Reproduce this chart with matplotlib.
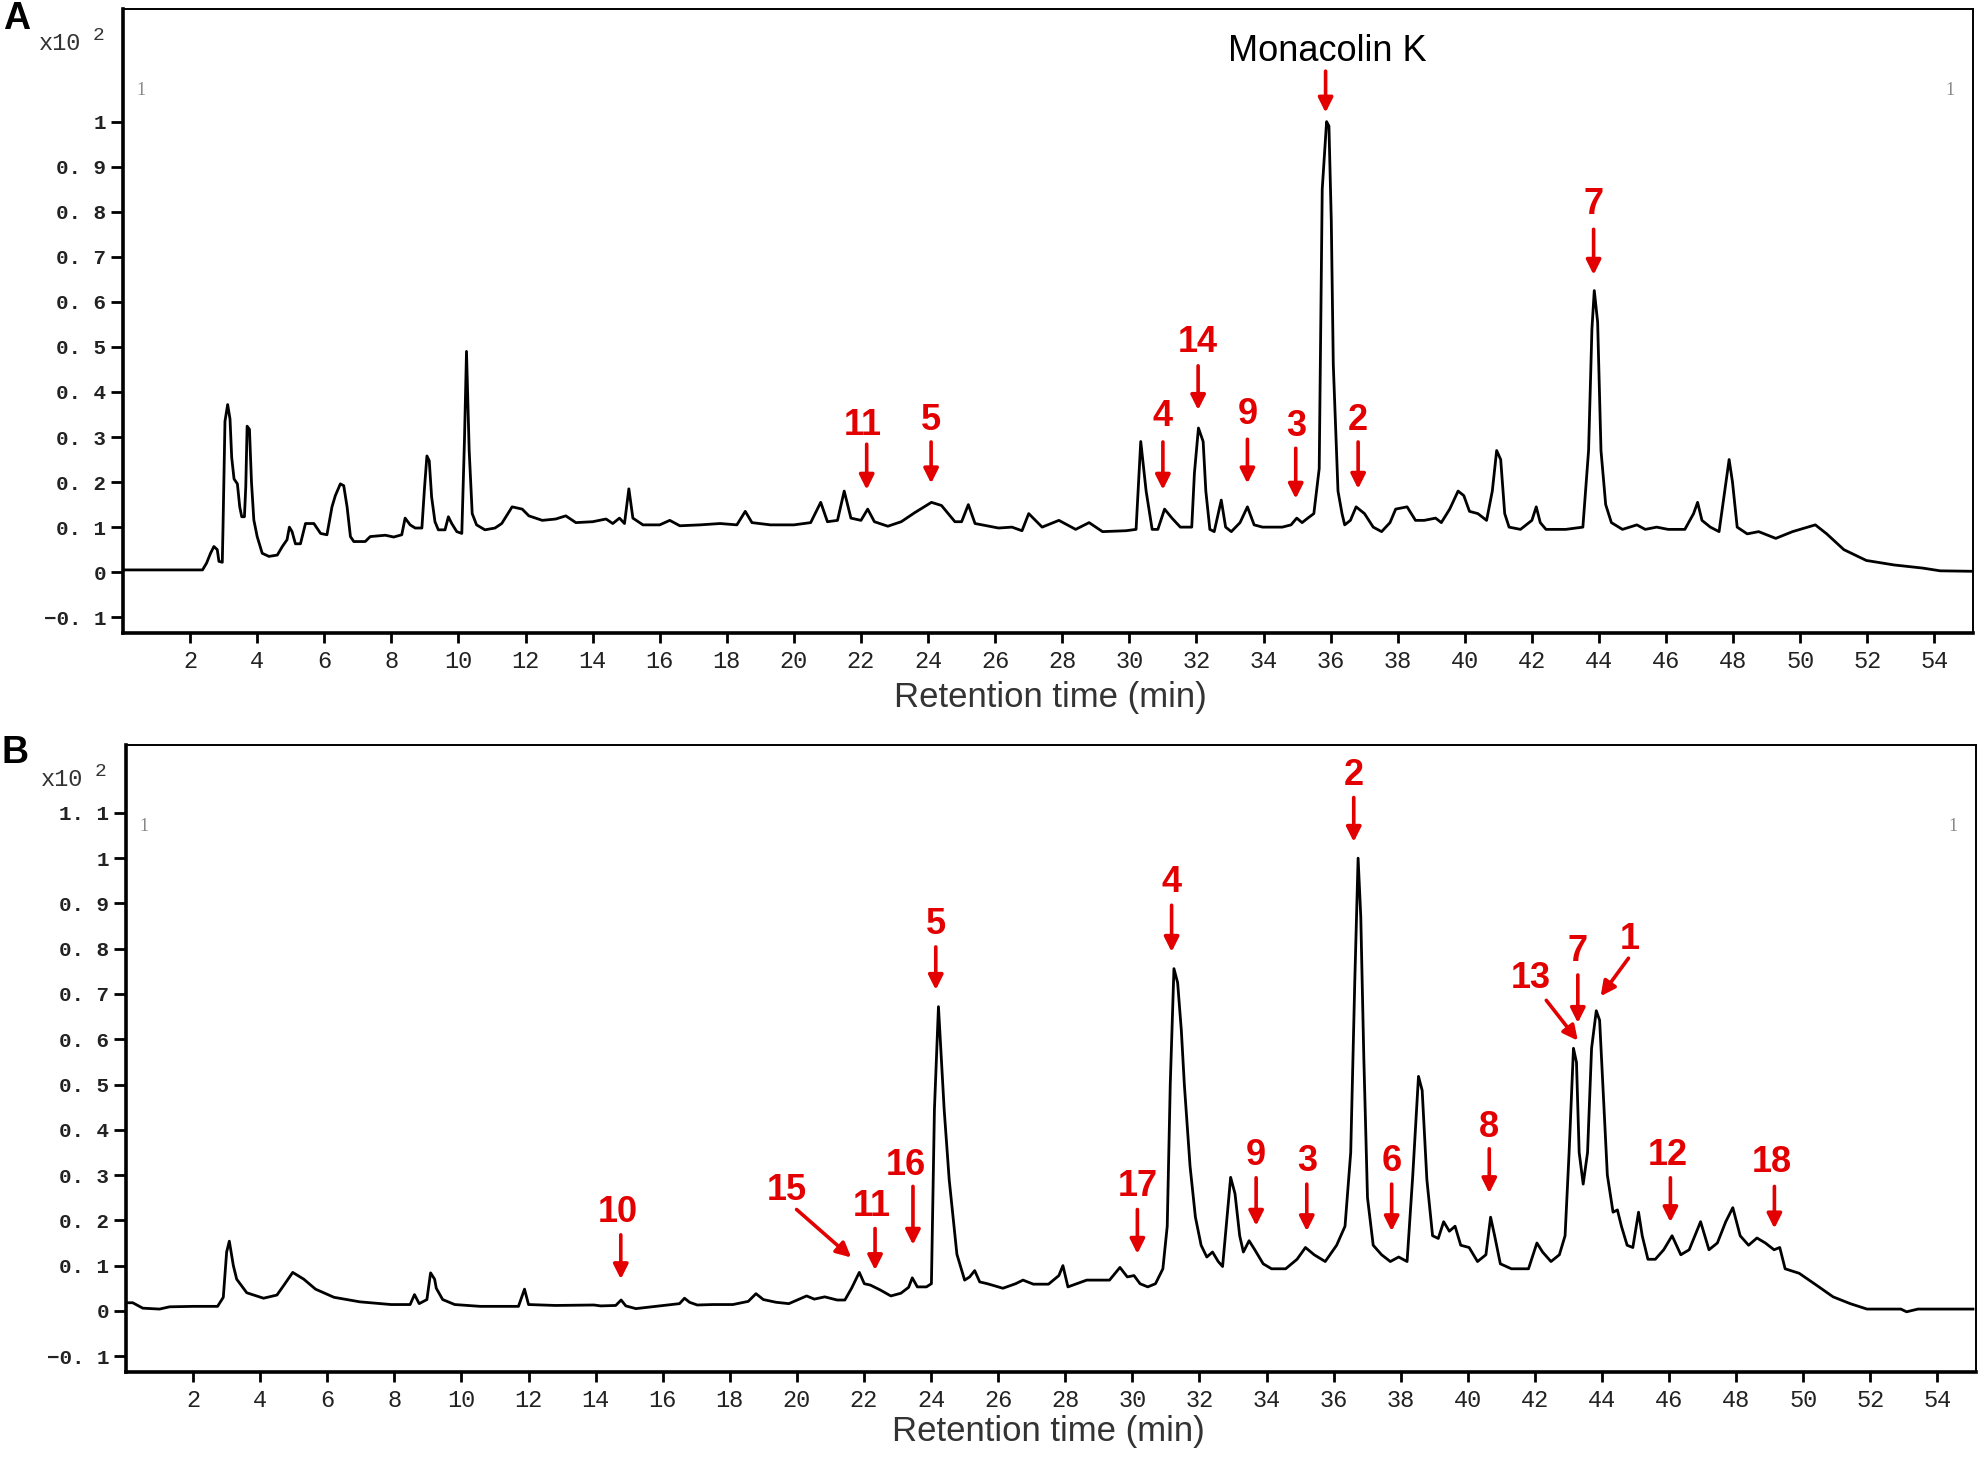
import matplotlib
matplotlib.use('Agg')
import matplotlib.pyplot as plt

# Panel A: retention time (min) and signal (x10^2)
a_time = [0.0, 2.37, 2.49, 2.61, 2.71, 2.81, 2.86, 2.96, 2.98, 3.04, 3.12, 3.19, 3.24, 3.31, 3.41,
          3.48, 3.54, 3.62, 3.66, 3.70, 3.77, 3.83, 3.90, 4.00, 4.15, 4.35, 4.60, 4.75, 4.89, 4.96,
          5.04, 5.14, 5.29, 5.44, 5.69, 5.89, 6.08, 6.23, 6.33, 6.48, 6.58, 6.68, 6.78, 6.88, 7.22,
          7.37, 7.82, 8.07, 8.31, 8.41, 8.56, 8.71, 8.91, 8.99, 9.06, 9.13, 9.20, 9.30, 9.40, 9.60,
          9.70, 9.80, 9.95, 10.10, 10.18, 10.24, 10.32, 10.41, 10.54, 10.79, 11.09, 11.29, 11.6, 11.9,
          12.1, 12.5, 12.9, 13.2, 13.5, 14.0, 14.4, 14.6, 14.8, 14.95, 15.08, 15.2, 15.5, 16.0, 16.3,
          16.6, 17.2, 17.8, 18.3, 18.55, 18.75, 19.3, 20.0, 20.5, 20.8, 21.0, 21.3, 21.5, 21.7, 22.0,
          22.2, 22.4, 22.8, 23.2, 23.6, 24.1, 24.4, 24.8, 25.0, 25.2, 25.4, 26.1, 26.5, 26.8, 27.0,
          27.4, 27.9, 28.4, 28.8, 29.2, 29.9, 30.2, 30.34, 30.5, 30.68, 30.85, 31.05, 31.27, 31.52,
          31.86, 31.94, 32.06, 32.2, 32.28, 32.4, 32.53, 32.74, 32.87, 33.04, 33.3, 33.52, 33.72,
          33.97, 34.22, 34.56, 34.82, 34.99, 35.15, 35.32, 35.5, 35.66, 35.75, 35.88, 35.95, 36.02,
          36.08, 36.22, 36.34, 36.42, 36.59, 36.76, 37.01, 37.27, 37.52, 37.77, 37.94, 38.28, 38.53,
          38.79, 39.13, 39.3, 39.55, 39.8, 39.97, 40.14, 40.39, 40.65, 40.82, 40.95, 41.07, 41.19,
          41.32, 41.66, 42.0, 42.13, 42.25, 42.42, 43.01, 43.52, 43.69, 43.79, 43.86, 43.96, 44.06,
          44.2, 44.37, 44.7, 45.13, 45.38, 45.72, 46.06, 46.56, 46.82, 46.94, 47.07, 47.32, 47.58,
          47.75, 47.88, 47.98, 48.12, 48.42, 48.76, 49.27, 49.77, 50.45, 50.79, 51.3, 51.97, 52.8,
          53.66, 54.17, 55.1]
a_signal = [0.005, 0.005, 0.02, 0.042, 0.057, 0.05, 0.024, 0.022, 0.094, 0.335, 0.372, 0.34, 0.255,
            0.207, 0.196, 0.145, 0.123, 0.123, 0.19, 0.324, 0.317, 0.20, 0.116, 0.079, 0.042, 0.035,
            0.038, 0.057, 0.072, 0.100, 0.090, 0.063, 0.063, 0.108, 0.108, 0.086, 0.083, 0.145, 0.170,
            0.196, 0.192, 0.145, 0.079, 0.068, 0.068, 0.079, 0.082, 0.078, 0.083, 0.120, 0.105, 0.098,
            0.098, 0.189, 0.258, 0.247, 0.167, 0.112, 0.094, 0.094, 0.123, 0.108, 0.090, 0.086, 0.295,
            0.490, 0.270, 0.130, 0.105, 0.094, 0.098, 0.108, 0.145, 0.14, 0.125, 0.115, 0.118, 0.125,
            0.11, 0.112, 0.118, 0.108, 0.12, 0.108, 0.185, 0.12, 0.105, 0.105, 0.115, 0.103, 0.105,
            0.108, 0.105, 0.135, 0.11, 0.105, 0.105, 0.11, 0.155, 0.112, 0.115, 0.18, 0.12, 0.115,
            0.14, 0.112, 0.102, 0.112, 0.132, 0.155, 0.148, 0.112, 0.112, 0.15, 0.108, 0.098, 0.1,
            0.092, 0.13, 0.1, 0.115, 0.095, 0.11, 0.09, 0.092, 0.095, 0.29, 0.18, 0.095, 0.095, 0.14,
            0.12, 0.10, 0.10, 0.22, 0.32, 0.29, 0.18, 0.095, 0.09, 0.16, 0.10, 0.09, 0.11, 0.145, 0.105,
            0.10, 0.10, 0.10, 0.105, 0.12, 0.11, 0.12, 0.13, 0.23, 0.85, 1.0, 0.99, 0.78, 0.46, 0.18,
            0.13, 0.105, 0.115, 0.145, 0.13, 0.10, 0.09, 0.11, 0.14, 0.145, 0.115, 0.115, 0.12, 0.11,
            0.14, 0.18, 0.17, 0.135, 0.13, 0.115, 0.18, 0.27, 0.25, 0.13, 0.10, 0.095, 0.115, 0.145,
            0.11, 0.095, 0.095, 0.10, 0.27, 0.54, 0.625, 0.555, 0.27, 0.15, 0.11, 0.095, 0.105, 0.095,
            0.10, 0.095, 0.095, 0.13, 0.155, 0.115, 0.10, 0.09, 0.18, 0.25, 0.20, 0.10, 0.085, 0.09,
            0.075, 0.09, 0.105, 0.085, 0.05, 0.026, 0.016, 0.009, 0.003, 0.002]

# Panel B
b_time = [0.0, 0.2, 0.5, 1.0, 1.3, 2.0, 2.73, 2.9, 3.0, 3.08, 3.2, 3.3, 3.6, 4.1, 4.5, 4.7, 4.97,
          5.3, 5.65, 6.2, 6.97, 7.9, 8.47, 8.6, 8.74, 8.97, 9.08, 9.2, 9.25, 9.44, 9.8, 10.56, 11.7,
          11.88, 12.0, 12.8, 13.95, 14.15, 14.6, 14.76, 14.9, 15.2, 15.67, 16.12, 16.5, 16.65, 16.8,
          17.03, 17.49, 18.09, 18.55, 18.78, 19.0, 19.38, 19.76, 20.29, 20.52, 20.83, 21.2, 21.43,
          21.63, 21.86, 22.01, 22.19, 22.49, 22.8, 23.1, 23.33, 23.44, 23.59, 23.86, 24.01, 24.1,
          24.22, 24.39, 24.54, 24.77, 25.0, 25.15, 25.3, 25.45, 25.68, 26.14, 26.52, 26.74, 27.05,
          27.5, 27.81, 27.93, 28.08, 28.34, 28.64, 29.1, 29.32, 29.63, 29.85, 30.05, 30.23, 30.46,
          30.69, 30.91, 31.04, 31.13, 31.24, 31.35, 31.46, 31.55, 31.72, 31.88, 32.05, 32.22, 32.39,
          32.56, 32.69, 32.81, 32.93, 33.06, 33.2, 33.31, 33.48, 33.65, 33.9, 34.15, 34.57, 34.91,
          35.16, 35.42, 35.75, 36.09, 36.34, 36.51, 36.63, 36.73, 36.81, 36.9, 37.01, 37.18, 37.43,
          37.69, 37.94, 38.19, 38.36, 38.53, 38.64, 38.78, 38.95, 39.12, 39.28, 39.45, 39.62, 39.79,
          40.04, 40.29, 40.54, 40.68, 40.8, 40.97, 41.3, 41.81, 42.06, 42.23, 42.48, 42.73, 42.9,
          43.02, 43.15, 43.24, 43.32, 43.44, 43.57, 43.69, 43.83, 43.93, 44.04, 44.16, 44.33, 44.46,
          44.58, 44.75, 44.92, 45.09, 45.2, 45.37, 45.59, 45.84, 46.09, 46.35, 46.6, 46.94, 47.19,
          47.44, 47.69, 47.9, 48.12, 48.37, 48.62, 48.87, 49.13, 49.3, 49.46, 49.88, 50.39, 50.89,
          51.4, 51.9, 52.91, 53.08, 53.42, 55.06]
b_signal = [0.018, 0.018, 0.006, 0.004, 0.009, 0.01, 0.01, 0.03, 0.13, 0.154, 0.10, 0.07, 0.04,
            0.028, 0.035, 0.056, 0.085, 0.07, 0.048, 0.03, 0.02, 0.014, 0.014, 0.036, 0.016, 0.025,
            0.084, 0.07, 0.05, 0.025, 0.014, 0.01, 0.01, 0.048, 0.014, 0.012, 0.013, 0.011, 0.012,
            0.024, 0.011, 0.005, 0.009, 0.013, 0.016, 0.028, 0.019, 0.013, 0.014, 0.014, 0.021, 0.038,
            0.025, 0.019, 0.016, 0.033, 0.026, 0.031, 0.024, 0.024, 0.05, 0.085, 0.06, 0.057, 0.046,
            0.033, 0.039, 0.052, 0.073, 0.053, 0.053, 0.06, 0.445, 0.672, 0.445, 0.29, 0.125, 0.068,
            0.075, 0.089, 0.064, 0.06, 0.05, 0.06, 0.068, 0.059, 0.059, 0.078, 0.1, 0.053, 0.06, 0.068,
            0.068, 0.068, 0.096, 0.075, 0.078, 0.06, 0.053, 0.06, 0.093, 0.187, 0.5, 0.756, 0.725,
            0.62, 0.5, 0.32, 0.207, 0.145, 0.119, 0.13, 0.109, 0.098, 0.197, 0.295, 0.259, 0.166, 0.13,
            0.155, 0.135, 0.104, 0.093, 0.093, 0.114, 0.14, 0.124, 0.109, 0.145, 0.187, 0.35, 0.725,
            1.0, 0.87, 0.56, 0.25, 0.145, 0.124, 0.109, 0.119, 0.109, 0.3, 0.518, 0.487, 0.29, 0.166,
            0.16, 0.197, 0.176, 0.187, 0.145, 0.14, 0.109, 0.124, 0.207, 0.166, 0.104, 0.093, 0.093,
            0.15, 0.13, 0.109, 0.124, 0.166, 0.35, 0.58, 0.549, 0.35, 0.28, 0.35, 0.58, 0.663, 0.642,
            0.477, 0.3, 0.218, 0.223, 0.187, 0.145, 0.14, 0.218, 0.166, 0.114, 0.114, 0.135, 0.166,
            0.124, 0.135, 0.197, 0.135, 0.15, 0.197, 0.228, 0.166, 0.145, 0.161, 0.15, 0.135, 0.14,
            0.093, 0.083, 0.057, 0.031, 0.016, 0.004, 0.004, -0.002, 0.004, 0.004]

# peak labels: text, label (time, height), arrow tail (time, height), arrow tip (time, height)
a_peaks = ['11', '5', '4', '14', '9', '3', '2', '7', 'Monacolin K']
a_text_xy = [(22.05, 0.326), (24.09, 0.337), (31.0, 0.346), (32.05, 0.51), (33.52, 0.351),
             (34.96, 0.323), (36.82, 0.337), (43.84, 0.815), (35.9, 1.155)]
a_tail_xy = [(22.17, 0.284), (24.09, 0.289), (31.0, 0.289), (32.05, 0.458), (33.52, 0.295),
             (34.96, 0.275), (36.82, 0.289), (43.84, 0.761), (35.85, 1.112)]
a_tip_xy = [(22.17, 0.183), (24.09, 0.197), (31.0, 0.183), (32.05, 0.36), (33.52, 0.197),
            (34.96, 0.163), (36.82, 0.185), (43.84, 0.66), (35.85, 1.02)]

b_peaks = ['10', '15', '11', '16', '5', '17', '4', '9', '3', '2', '6', '8', '13', '7', '1', '12', '18']
b_text_xy = [(14.67, 0.218), (19.69, 0.266), (22.22, 0.230), (23.24, 0.322), (24.14, 0.854),
             (30.15, 0.275), (31.17, 0.947), (33.69, 0.344), (35.2, 0.33), (36.6, 1.182),
             (37.73, 0.33), (40.64, 0.406), (41.89, 0.734), (43.28, 0.793), (44.83, 0.821),
             (45.96, 0.344), (49.06, 0.328)]
b_tail_xy = [(14.75, 0.168), (19.99, 0.224), (22.33, 0.182), (23.46, 0.275), (24.14, 0.804),
             (30.15, 0.224), (31.17, 0.896), (33.69, 0.294), (35.2, 0.28), (36.6, 1.134),
             (37.73, 0.28), (40.64, 0.358), (42.34, 0.686), (43.28, 0.742), (44.79, 0.779),
             (46.04, 0.294), (49.14, 0.275)]
b_tip_xy = [(14.75, 0.07), (21.62, 0.118), (22.33, 0.090), (23.46, 0.146), (24.14, 0.709),
            (30.15, 0.126), (31.17, 0.793), (33.69, 0.188), (35.2, 0.176), (36.6, 1.036),
            (37.73, 0.176), (40.64, 0.26), (43.28, 0.597), (43.28, 0.636), (43.96, 0.695),
            (46.04, 0.196), (49.14, 0.182)]

RED = '#e30000'
W, H = 1984, 1462
MONO = ['Liberation Mono', 'DejaVu Sans Mono']
SANS = ['Liberation Sans', 'DejaVu Sans']

fig = plt.figure(figsize=(W / 100, H / 100), dpi=100)


def px_rect(left, top, right, bottom):
    return [left / W, 1 - bottom / H, (right - left) / W, (bottom - top) / H]


def fmt(v):
    if abs(v) < 1e-9:
        return '0'
    if abs(v - round(v)) < 1e-9:
        return '%d' % round(v)
    s = ('%.1f' % v).replace('.', '. ')
    return s.replace('-', '\u2212')


def draw_panel(rect, t, s, yticks, peaks, text_xy, tail_xy, tip_xy):
    ax = fig.add_axes(rect)
    ax.plot(t, s, color='black', lw=2.0)
    ax.set_xlim(0, 55.15)
    ax.set_ylim(-0.135, 1.25)
    ax.set_xticks(range(2, 55, 2))
    ax.set_xticklabels([str(v) for v in range(2, 55, 2)], fontfamily=MONO, fontsize=17,
                       color='#222222')
    ax.set_yticks(yticks)
    ax.set_yticklabels([fmt(v) for v in yticks], fontfamily=MONO, fontsize=15,
                       fontweight='bold', color='#222222')
    ax.tick_params(axis='x', direction='out', length=7, width=2, pad=5)
    ax.tick_params(axis='y', direction='out', length=9, width=2, pad=3)
    for side in ['left', 'bottom']:
        ax.spines[side].set_linewidth(2.6)
    for side in ['top', 'right']:
        ax.spines[side].set_linewidth(1.4)
    for lab, txy, a0, a1 in zip(peaks, text_xy, tail_xy, tip_xy):
        if lab == 'Monacolin K':
            ax.text(txy[0], txy[1], lab, color='black', fontsize=26,
                    fontfamily=SANS, ha='center', va='center')
        else:
            ax.text(txy[0], txy[1], lab, color=RED, fontsize=26, fontweight='bold',
                    fontfamily=SANS, ha='center', va='center')
        ax.annotate('', xy=a1, xytext=a0,
                    arrowprops=dict(arrowstyle='-|>', color=RED, lw=2.6,
                                    mutation_scale=22, shrinkA=0, shrinkB=0))
    ax.text(0.007, 0.87, '1', transform=ax.transAxes, color='#888888', fontsize=13,
            fontfamily='Liberation Serif', ha='left', va='center')
    ax.text(0.99, 0.87, '1', transform=ax.transAxes, color='#888888', fontsize=13,
            fontfamily='Liberation Serif', ha='right', va='center')
    return ax


ax_a = draw_panel(px_rect(123, 9, 1973, 633), a_time, a_signal,
                  [-0.1, 0, 0.1, 0.2, 0.3, 0.4, 0.5, 0.6, 0.7, 0.8, 0.9, 1.0],
                  a_peaks, a_text_xy, a_tail_xy, a_tip_xy)

ax_b = draw_panel(px_rect(126, 745, 1976, 1372), b_time, b_signal,
                  [-0.1, 0, 0.1, 0.2, 0.3, 0.4, 0.5, 0.6, 0.7, 0.8, 0.9, 1.0, 1.1],
                  b_peaks, b_text_xy, b_tail_xy, b_tip_xy)

# panel letters, exponent labels and axis titles
for letter, (lx, ly), (ex, ey) in [('A', (17, 19), (60, 44)), ('B', (15, 753), (62, 780))]:
    fig.text(lx / W, 1 - ly / H, letter, fontsize=27, fontweight='bold', fontfamily=SANS,
             ha='center', va='center')
    fig.text(ex / W, 1 - ey / H, 'x10', fontsize=17, fontfamily=MONO, color='#333333',
             ha='center', va='center')
    fig.text((ex + 39) / W, 1 - (ey - 9) / H, '2', fontsize=14, fontfamily=MONO,
             color='#333333', ha='center', va='center')

fig.text(1050 / W, 1 - 698 / H, 'Retention time (min)', fontsize=25, fontfamily=SANS,
         color='#333333', ha='center', va='center')
fig.text(1048 / W, 1 - 1432 / H, 'Retention time (min)', fontsize=25, fontfamily=SANS,
         color='#333333', ha='center', va='center')

fig.savefig('out.png', dpi=100)
